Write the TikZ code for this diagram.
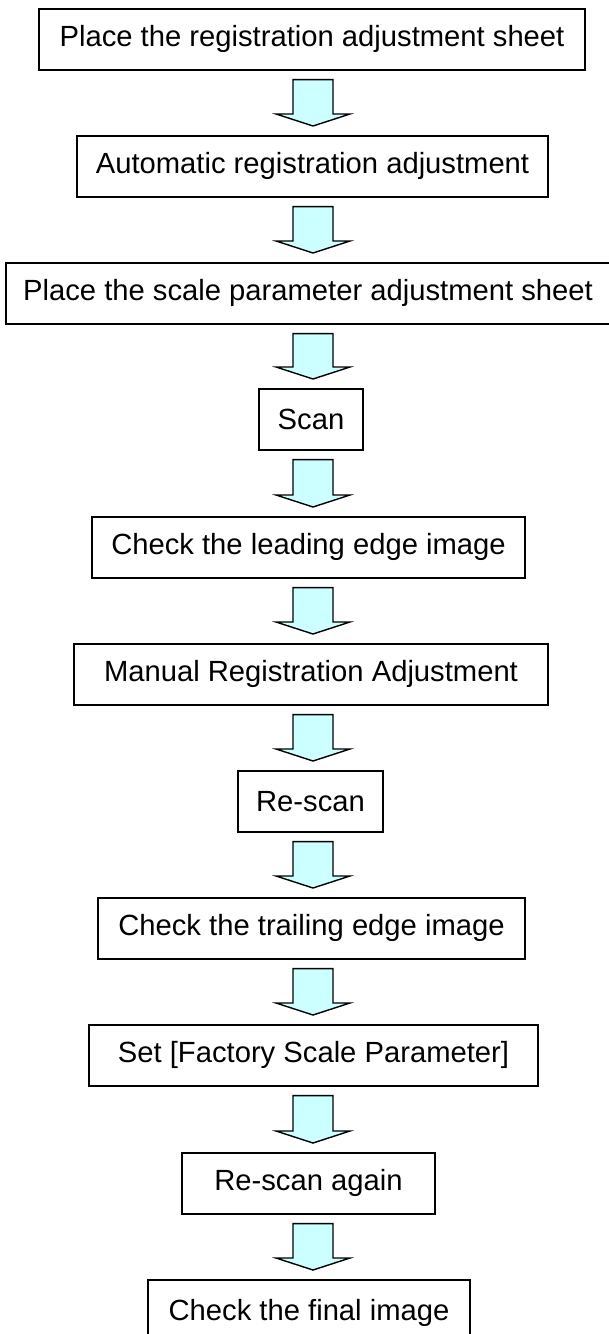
\documentclass[tikz,border=0pt]{standalone}
\usepackage{fontspec}
\setmainfont{Liberation Sans}
\usetikzlibrary{calc}
\definecolor{arrowfill}{HTML}{CCFFFF}
\tikzset{
  stepbox/.style={draw=black, line width=0.8pt, inner sep=0pt, minimum height=30.5pt,
    font=\fontsize{14.6pt}{17pt}\selectfont, anchor=north},
  flowarr/.style={draw=black, line width=0.7pt, fill=arrowfill, line join=miter},
}
\newcommand\flowarrow[2]{%
  \path (313,0 |- #1.south) coordinate (ta) (313,0 |- #2.north) coordinate (tb);
  \draw[flowarr] ($(ta)+(-20,9)$) -- ($(ta)+(20,9)$) -- ($(tb)+(20,-21)$) -- ($(tb)+(37,-21)$)
    -- ($(tb)+(0,-9)$) -- ($(tb)+(-37,-21)$) -- ($(tb)+(-20,-21)$) -- cycle;}
\begin{document}
\begin{tikzpicture}[x=0.5pt, y=-0.5pt]
\useasboundingbox[fill=white] (0,0) rectangle (609,1334);
\node[stepbox, minimum width=273pt] (b1) at (312,8) {Place the registration adjustment sheet};
\node[stepbox, minimum width=235.5pt] (b2) at (312.5,135) {Automatic registration adjustment};
\node[stepbox, minimum width=302pt] (b3) at (308,262) {Place the scale parameter adjustment sheet};
\node[stepbox, minimum width=52pt] (b4) at (311,388) {Scan};
\node[stepbox, minimum width=216.5pt] (b5) at (308.5,516) {Check the leading edge image};
\node[stepbox, minimum width=237pt] (b6) at (311,643) {Manual Registration Adjustment};
\node[stepbox, minimum width=72.5pt] (b7) at (310.5,770) {Re-scan};
\node[stepbox, minimum width=213.5pt] (b8) at (311.5,897) {Check the trailing edge image};
\node[stepbox, minimum width=224.5pt] (b9) at (313.5,1024) {Set [Factory Scale Parameter]};
\node[stepbox, minimum width=126.5pt] (b10) at (308.5,1152) {Re-scan again};
\node[stepbox, minimum width=161pt, minimum height=33pt, text depth=3pt] (b11) at (309,1279) {Check the final image};
\flowarrow{b1}{b2}
\flowarrow{b2}{b3}
\flowarrow{b3}{b4}
\flowarrow{b4}{b5}
\flowarrow{b5}{b6}
\flowarrow{b6}{b7}
\flowarrow{b7}{b8}
\flowarrow{b8}{b9}
\flowarrow{b9}{b10}
\flowarrow{b10}{b11}
\end{tikzpicture}
\end{document}
